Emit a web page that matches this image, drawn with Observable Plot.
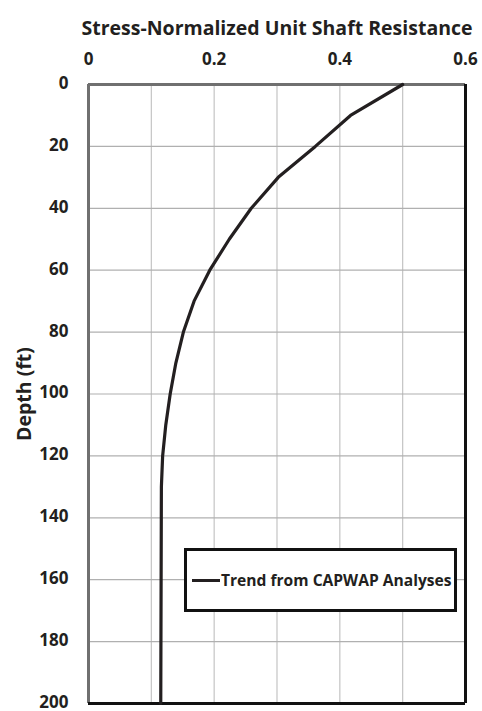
<!DOCTYPE html>
<html>
<head>
<meta charset="utf-8">
<script src="https://cdn.jsdelivr.net/npm/d3@7"></script>
<script src="https://cdn.jsdelivr.net/npm/@observablehq/plot@0.6"></script>
<style>
  html, body { margin: 0; padding: 0; background: #fff; }
  #wrap { position: relative; width: 482px; height: 711px; }
  #legend {
    position: absolute; left: 184px; top: 548px; width: 267px; height: 58px;
    border: 3.5px solid #111; background: #fff;
    display: flex; align-items: center; white-space: nowrap; overflow: visible;
    font-family: "Open Sans", sans-serif; font-weight: bold; font-size: 15.6px; color: #231f20;
  }
  #legend .swatch { flex: none; width: 28px; height: 3px; background: #231f20; margin-left: 5px; margin-right: 1px; }
</style>
</head>
<body>
<div id="wrap"></div>
<script>
// Data
const depthFt = [0, 10, 20, 30, 40, 50, 60, 70, 80, 90, 100, 110, 120, 130, 200];
const shaftResistance = [0.5, 0.417, 0.361, 0.302, 0.259, 0.224, 0.193, 0.168, 0.151, 0.139, 0.130, 0.123, 0.118, 0.116, 0.115];
const xTicks = [0, 0.2, 0.4, 0.6];
const xGridLines = [0.1, 0.2, 0.3, 0.4, 0.5];
const yTicks = [0, 20, 40, 60, 80, 100, 120, 140, 160, 180, 200];
const xLabel = "Stress-Normalized Unit Shaft Resistance";
const yLabel = "Depth (ft)";
const seriesName = "Trend from CAPWAP Analyses";

const data = depthFt.map((d, i) => ({depth: d, value: shaftResistance[i]}));

const chart = Plot.plot({
  width: 482,
  height: 711,
  marginTop: 84,
  marginLeft: 88,
  marginRight: 17,
  marginBottom: 8,
  style: {fontFamily: "'Open Sans', sans-serif", fontWeight: "bold", fontSize: "17px", color: "#231f20", background: "#fff"},
  x: {domain: [0, 0.6]},
  y: {domain: [0, 200], reverse: true},
  marks: [
    Plot.gridX(xGridLines, {stroke: "#c4c4c4", strokeOpacity: 1, strokeWidth: 1.2}),
    Plot.gridY(yTicks, {stroke: "#b0b0b0", strokeOpacity: 1, strokeWidth: 1.2}),
    Plot.ruleX([0], {stroke: "#707070", strokeWidth: 3}),
    Plot.ruleY([0], {stroke: "#707070", strokeWidth: 3}),
    Plot.ruleX([0.6], {stroke: "#111", strokeWidth: 3}),
    Plot.ruleY([200], {stroke: "#111", strokeWidth: 3}),
    Plot.line(data, {x: "value", y: "depth", stroke: "#231f20", strokeWidth: 3.2}),
    Plot.axisX(xTicks, {anchor: "top", tickSize: 0, tickPadding: 20, tickFormat: d => String(d), fontSize: 17, label: null}),
    Plot.axisX({anchor: "top", ticks: [], label: xLabel, labelAnchor: "center", labelArrow: "none", labelOffset: 63, fontSize: 19.5, dx: 6}),
    Plot.axisY(yTicks, {anchor: "left", tickSize: 0, tickPadding: 20, dy: -1, tickFormat: d => String(d), fontSize: 17, label: null}),
    Plot.axisY({anchor: "left", ticks: [], label: yLabel, labelAnchor: "center", labelArrow: "none", labelOffset: 71, fontSize: 19.5})
  ]
});
document.getElementById("wrap").appendChild(chart);

const legend = document.createElement("div");
legend.id = "legend";
legend.innerHTML = `<div class="swatch"></div><span>${seriesName}</span>`;
document.getElementById("wrap").appendChild(legend);
</script>
</body>
</html>
